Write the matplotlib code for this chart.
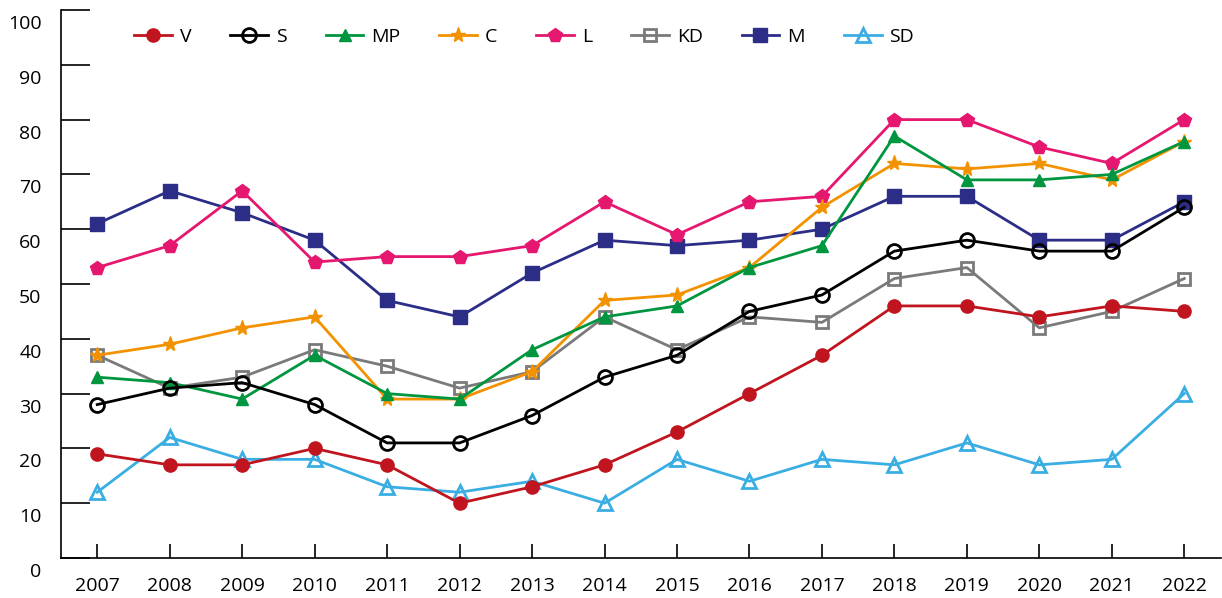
import matplotlib.pyplot as plt
import matplotlib.transforms as mtransforms

plt.rcParams["font.family"] = ["Open Sans", "DejaVu Sans"]

years = list(range(2007, 2023))

parties = ["V", "S", "MP", "C", "L", "KD", "M", "SD"]

v_vals = [19, 17, 17, 20, 17, 10, 13, 17, 23, 30, 37, 46, 46, 44, 46, 45]
s_vals = [28, 31, 32, 28, 21, 21, 26, 33, 37, 45, 48, 56, 58, 56, 56, 64]
mp_vals = [33, 32, 29, 37, 30, 29, 38, 44, 46, 53, 57, 77, 69, 69, 70, 76]
c_vals = [37, 39, 42, 44, 29, 29, 34, 47, 48, 53, 64, 72, 71, 72, 69, 76]
l_vals = [53, 57, 67, 54, 55, 55, 57, 65, 59, 65, 66, 80, 80, 75, 72, 80]
kd_vals = [37, 31, 33, 38, 35, 31, 34, 44, 38, 44, 43, 51, 53, 42, 45, 51]
m_vals = [61, 67, 63, 58, 47, 44, 52, 58, 57, 58, 60, 66, 66, 58, 58, 65]
sd_vals = [12, 22, 18, 18, 13, 12, 14, 10, 18, 14, 18, 17, 21, 17, 18, 30]

series = [v_vals, s_vals, mp_vals, c_vals, l_vals, kd_vals, m_vals, sd_vals]

colors = ["#C0141F", "#000000", "#00963F", "#F39200", "#E5176E", "#7A7A7A", "#2B2D87", "#3AAEE3"]
markers = ["o", "o", "^", "*", "p", "s", "s", "^"]
filled = [True, False, True, True, True, False, True, False]
msizes = [9.5, 10, 9, 11, 10.5, 9, 9.5, 10.5]

fig = plt.figure(figsize=(12.22, 5.98), dpi=100)
ax = fig.add_axes([61 / 1222, 40 / 598, 1159.5 / 1222, 548 / 598])

handles = {}
n = len(parties)
for i in reversed(range(n)):
    mfc = colors[i] if filled[i] else "none"
    h, = ax.plot(years, series[i], color=colors[i], lw=2, marker=markers[i],
                 markersize=msizes[i], markerfacecolor=mfc,
                 markeredgecolor=colors[i], markeredgewidth=2 if not filled[i] else 1,
                 label=parties[i], zorder=3 + (n - i) * 0.1)
    handles[parties[i]] = h

ax.set_xlim(2006.5, 2022.5)
ax.set_ylim(0, 100)
ax.set_xticks(years)
ax.set_yticks(range(0, 101, 10))

for side in ["top", "right"]:
    ax.spines[side].set_visible(False)
for side in ["left", "bottom"]:
    ax.spines[side].set_linewidth(1.2)

ax.tick_params(axis="y", direction="in", length=21, width=1.2, labelsize=14, pad=14)
ax.tick_params(axis="x", direction="in", length=10, width=1.2, labelsize=14, pad=14)

# y labels sit a little below their ticks in the original
offset = mtransforms.ScaledTranslation(0, -12 / 100, fig.dpi_scale_trans)
for lbl in ax.get_yticklabels():
    lbl.set_transform(lbl.get_transform() + offset)

ax.legend([handles[p] for p in parties], parties, loc="upper left",
          bbox_to_anchor=(0.048, 1.0), ncol=8, frameon=False, fontsize=14,
          handlelength=1.95, handletextpad=0.4, columnspacing=2.0)

fig.savefig("out.png", dpi=100)
